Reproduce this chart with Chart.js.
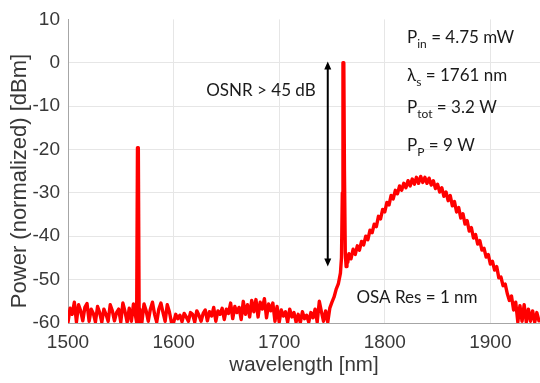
<!DOCTYPE html>
<html>
<head>
<meta charset="utf-8">
<script src="https://cdn.jsdelivr.net/npm/chart.js@4"></script>
<style>
  body { margin: 0; background: #fff; }
  canvas { display: block; }
</style>
</head>
<body>
<canvas id="myChart" width="540" height="383"></canvas>
<script>
// OSA trace (nm, dBm normalized)
const wavelengths = [
  1500,1502,1504,1506,1508,1510,1512,1514,1516,1518,
  1520,1522,1524,1526,1528,1530,1532,1534,1536,1538,
  1540,1542,1544,1546,1548,1550,1552,1554,1556,1558,
  1560,1562,
  1565,1565.8,1566.6,1567.4,
  1568,1570,1572,1574,1576,1578,1580,1582,1584,1586,
  1588,1590,1592,1594,1596,1598,1600,1602,1604,1606,
  1608,1610,1612,1614,1616,1618,1620,1622,1624,1626,
  1628,1630,1632,1634,1636,1638,1640,1642,1644,1646,
  1648,1650,1652,1654,1656,1658,1660,1662,1664,1666,
  1668,1670,1672,1674,1676,1678,1680,1682,1684,1686,
  1688,1690,1692,1694,1696,1698,1700,1702,1704,1706,
  1708,1710,1712,1714,1716,1718,1720,1722,1724,1726,
  1728,1730,1732,1734,1736,1738,1740,1742,1744,
  1746,1748,1750,1752,1754,1756,1758,1759,1759.8,1760.4,
  1761.2,1761.8,1762.6,1763.4,1764.2,1765,1766,
  1768,1770,1772,1774,1776,1778,1780,1782,1784,1786,
  1788,1790,1792,1794,1796,1798,1800,1802,1804,1806,
  1808,1810,1812,1814,1816,1818,1820,1822,1824,1826,
  1828,1830,1832,1834,1836,1838,1840,1842,1844,1846,
  1848,1850,1852,1854,1856,1858,1860,1862,1864,1866,
  1868,1870,1872,1874,1876,1878,1880,1882,1884,1886,
  1888,1890,1892,1894,1896,1898,1900,1902,1904,1906,
  1908,1910,1912,1914,1916,1918,1920,
  1922,1924,1926,1928,1930,1932,1934,1936,1938,1940,
  1942,1944,1946
];
const power = [
  -59.8,-56.6,-58.0,-55.2,-59.8,-55.8,-57.2,-59.5,-56.4,-55.5,
  -59.6,-56.8,-57.8,-59.8,-56.2,-57.6,-59.8,-56.8,-58.0,-59.6,
  -55.8,-57.2,-59.5,-57.6,-56.8,-59.8,-55.4,-57.4,-59.8,-56.6,
  -59.6,-55.6,
  -59.8,-19.6,-19.6,-59.8,
  -56.8,-59.8,-55.6,-57.2,-59.6,-56.8,-55.2,-58.0,-59.8,-56.8,
  -55.4,-57.6,-59.6,-55.8,-57.4,-59.9,-59.9,-58.0,-59.0,-58.2,
  -59.7,-57.8,-58.6,-59.6,-57.6,-58.0,-59.8,-57.2,-58.2,-59.6,
  -57.8,-57.0,-59.5,-57.4,-58.4,-56.4,-59.6,-57.2,-58.0,-56.6,
  -59.2,-56.8,-57.8,-55.4,-59.0,-56.2,-57.6,-56.4,-59.2,-55.0,
  -58.0,-55.8,-58.6,-54.8,-57.4,-54.6,-58.6,-55.2,-56.8,-54.4,
  -58.8,-55.6,-57.2,-55.4,-59.6,-56.2,-59.8,-57.0,-58.4,-57.4,
  -59.8,-56.8,-58.6,-57.6,-59.8,-58.0,-59.9,-57.4,-59.0,-58.2,
  -59.8,-57.6,-58.8,-56.8,-59.8,-55.0,-57.4,-59.6,-57.2,
  -59.8,-56.5,-55.2,-54.0,-52.2,-51.0,-48.5,-45,-30,0,
  0,-25,-44,-47,-44.5,-46,-44,
  -45.2,-43.0,-44.2,-42.2,-43.2,-41.2,-42.0,-40.0,-40.8,-38.6,
  -39.2,-37.2,-37.8,-35.4,-36.0,-33.8,-34.4,-32.2,-32.8,-30.6,
  -31.4,-29.4,-30.2,-28.4,-29.4,-27.8,-28.8,-27.2,-28.4,-26.8,
  -28.0,-26.4,-27.8,-26.2,-27.6,-26.4,-27.8,-26.6,-28.2,-27.2,
  -29.0,-28.0,-29.8,-28.8,-30.8,-29.8,-31.8,-30.6,-33.0,-32.0,
  -34.4,-33.4,-35.8,-34.8,-37.2,-36.4,-38.8,-38.0,-40.4,-39.6,
  -41.8,-41.0,-43.2,-42.8,-44.8,-44.2,-46.4,-45.8,-47.8,-47.0,
  -49.6,-49.4,-51.4,-51.0,-53.2,-54.8,-53.8,
  -57.0,-55.2,-59.8,-56.0,-59.6,-55.8,-59.8,-56.8,-59.6,-57.2,
  -59.8,-57.6,-59.5
];
const xTicks = [1500, 1600, 1700, 1800, 1900];
const yTicks = [-60, -50, -40, -30, -20, -10, 0, 10];

// annotation texts: [text, isSubscript]
const paramLines = [
  { y: 43,  parts: [['P', false], ['in', true], [' = 4.75 mW', false]] },
  { y: 81,  parts: [['λ', false], ['s', true], [' = 1761 nm', false]] },
  { y: 113, parts: [['P', false], ['tot', true], [' = 3.2 W', false]] },
  { y: 151, parts: [['P', false], ['P', true], [' = 9 W', false]] }
];
const osnrArrow = { x: 1746, top: 0.3, bottom: -47 };

const tickFont = { family: 'Liberation Sans, Arial, sans-serif', size: 19 };
const titleFont = { family: 'Liberation Sans, Arial, sans-serif', size: 20.5 };
const noteFont = 'Lato, "Open Sans", sans-serif';

function drawRich(ctx, x, y, parts) {
  let cx = x;
  parts.forEach(([t, sub]) => {
    ctx.font = (sub ? '12px ' : '17px ') + noteFont;
    ctx.fillText(t, cx, y + (sub ? 4.5 : 0));
    cx += ctx.measureText(t).width;
  });
}

const notes = {
  id: 'notes',
  afterDraw(chart) {
    const { ctx, scales: { x, y } } = chart;
    ctx.save();
    ctx.fillStyle = '#1a1a1a';
    ctx.textBaseline = 'alphabetic';
    ctx.textAlign = 'left';
    paramLines.forEach(l => drawRich(ctx, 407, l.y, l.parts));

    ctx.font = '17px ' + noteFont;
    ctx.textAlign = 'center';
    ctx.fillText('OSNR > 45 dB', 261, 96);
    ctx.fillText('OSA Res = 1 nm', 417, 303);

    // double arrow
    const ax = x.getPixelForValue(osnrArrow.x);
    const y0 = y.getPixelForValue(osnrArrow.top);
    const y1 = y.getPixelForValue(osnrArrow.bottom);
    ctx.strokeStyle = '#000';
    ctx.fillStyle = '#000';
    ctx.lineWidth = 2;
    ctx.beginPath();
    ctx.moveTo(ax, y0 + 5);
    ctx.lineTo(ax, y1 - 5);
    ctx.stroke();
    ctx.beginPath();
    ctx.moveTo(ax, y0); ctx.lineTo(ax - 3.5, y0 + 8); ctx.lineTo(ax + 3.5, y0 + 8); ctx.closePath();
    ctx.moveTo(ax, y1); ctx.lineTo(ax - 3.5, y1 - 8); ctx.lineTo(ax + 3.5, y1 - 8); ctx.closePath();
    ctx.fill();

    // y axis title
    ctx.translate(20, 181);
    ctx.rotate(-Math.PI / 2);
    ctx.font = '22px Liberation Sans, Arial, sans-serif';
    ctx.fillStyle = '#383838';
    ctx.textAlign = 'center';
    ctx.textBaseline = 'middle';
    ctx.fillText('Power (normalized) [dBm]', 0, 0);
    ctx.restore();
  }
};

const ctx = document.getElementById('myChart').getContext('2d');
const chart = new Chart(ctx, {
  type: 'line',
  data: {
    datasets: [{
      data: wavelengths.map((w, i) => ({ x: w, y: power[i] })),
      borderColor: '#ff0000',
      borderWidth: 3.4,
      borderJoinStyle: 'round',
      borderCapStyle: 'round',
      pointRadius: 0,
      tension: 0
    }]
  },
  options: {
    responsive: false,
    animation: false,
    layout: { padding: { top: 15, right: 0, left: 0, bottom: 0 } },
    plugins: { legend: { display: false }, tooltip: { enabled: false } },
    scales: {
      x: {
        type: 'linear',
        min: 1500,
        max: 1947,
        afterBuildTicks: s => { s.ticks = xTicks.map(v => ({ value: v })); },
        afterFit: s => { s.height = 60; },
        grid: { color: '#e6e6e6', drawTicks: false },
        border: { color: '#a6a6a6' },
        ticks: { font: tickFont, color: '#383838', padding: 8, maxRotation: 0, callback: v => String(v) },
        title: { display: true, text: 'wavelength [nm]', font: titleFont, color: '#383838', padding: { top: 0, bottom: 5 } }
      },
      y: {
        min: -60,
        max: 10,
        afterBuildTicks: s => { s.ticks = yTicks.map(v => ({ value: v })); },
        afterFit: s => { s.width = 68; },
        grid: { color: c => (c.tick && c.tick.value === 10 ? 'rgba(0,0,0,0)' : '#e6e6e6'), drawTicks: false },
        border: { color: '#a6a6a6' },
        ticks: { font: tickFont, color: '#383838', padding: 8, callback: v => String(v) }
      }
    }
  },
  plugins: [notes]
});
</script>
</body>
</html>
